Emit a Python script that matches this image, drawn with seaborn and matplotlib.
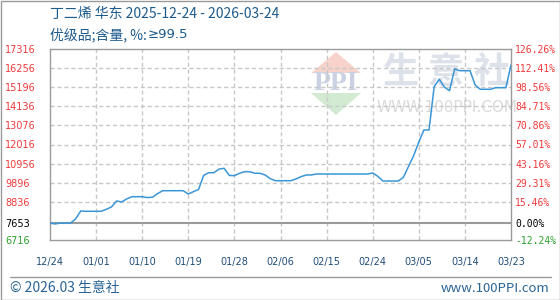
import numpy as np
import pandas as pd
import matplotlib
matplotlib.use("Agg")
import matplotlib.pyplot as plt
from matplotlib.patches import Polygon, Rectangle
import seaborn as sns

# ---------------- data ----------------
title_line1 = "丁二烯 华东 2025-12-24 - 2026-03-24"
title_line2a = "优级品;含量, %:"
title_line2b = "≥99.5"
base_value = 7653
y_min, y_max = 6716, 17316
grid_step = 1060
x_tick_labels = ["12/24", "01/01", "01/10", "01/19", "01/28", "02/06",
                 "02/15", "02/24", "03/05", "03/14", "03/23"]
day_index = list(range(91))
price = [7653, 7610, 7653, 7653, 7653, 7885, 8330, 8309, 8309, 8309,
         8309, 8420, 8550, 8880, 8830, 9000, 9119, 9119, 9119, 9070,
         9090, 9290, 9452, 9452, 9452, 9452, 9452, 9269, 9397, 9520,
         10300, 10451, 10451, 10650, 10695, 10300, 10285, 10420, 10507, 10507,
         10418, 10418, 10324, 10120, 10007, 10007, 10007, 10007, 10100, 10229,
         10324, 10324, 10379, 10379, 10379, 10379, 10379, 10379, 10379, 10379,
         10379, 10379, 10379, 10435, 10250, 9990, 9990, 9990, 9990, 10200,
         10800, 11400, 12150, 12821, 12821, 15224, 15635, 15200, 15002, 16207,
         16112, 16112, 16112, 15318, 15080, 15080, 15080, 15169, 15169, 15169,
         16428]

df = pd.DataFrame({"day": day_index, "price": price})

# ---------------- style ----------------
sns.set_style("white")
plt.rcParams["font.family"] = ["DejaVu Sans", "Noto Sans CJK SC"]

W, H = 560, 300
fig = plt.figure(figsize=(W / 100, H / 100), dpi=100)
fig.patch.set_facecolor("white")

def fx(px):
    return px / W

def fy(py):
    return 1 - py / H

L, R, T, B = 50, 511, 49, 240
ax = fig.add_axes([fx(L), fy(B), fx(R) - fx(L), fy(T) - fy(B)])
ax.set_facecolor("none")

blue_title = "#1d5b8c"
red = "#f03a3a"
green = "#2ca02c"
grid_col = "#c8c8c8"
frame_col = "#9a9a9a"
line_col = "#3a96d6"
cjk = ["Noto Sans CJK SC", "DejaVu Sans"]

# ---------------- watermark ----------------
wm_red = Polygon([[fx(336), fy(52)], [fx(311), fy(73)], [fx(361), fy(73)]],
                 closed=True, transform=fig.transFigure, facecolor="#f7d3cb",
                 edgecolor="none", zorder=-2)
wm_green = Polygon([[fx(311), fy(93)], [fx(361), fy(93)], [fx(336), fy(115)]],
                   closed=True, transform=fig.transFigure, facecolor="#d2ead2",
                   edgecolor="none", zorder=-2)
fig.patches.extend([wm_red, wm_green])
fig.text(fx(336), fy(84), "PPI", ha="center", va="center", fontsize=20,
         family="Liberation Serif", weight="bold", color="#c9d1e2", zorder=-1)
for ch, cx in zip("生意社", [401, 446, 492]):
    fig.text(fx(cx), fy(72), ch, ha="center", va="center", fontsize=26,
             family=["Noto Sans CJK SC"], weight="bold", color="#dde1ea", zorder=-1)
fig.text(fx(447), fy(107), "WWW.100PPI.COM", ha="center", va="center",
         fontsize=11, color="#dadada", zorder=-1)

# ---------------- grid ----------------
grid_vals = [y_min + grid_step * k for k in range(2, 10)]
for gv in grid_vals:
    ax.axhline(gv, color=grid_col, lw=1, ls=(0, (3, 2)), zorder=1)
for d in range(9, 90, 9):
    ax.axvline(d, color=grid_col, lw=1, ls=(0, (3, 2)), zorder=1)
ax.axhline(base_value, color=frame_col, lw=1.5, zorder=2)

# ---------------- line ----------------
sns.lineplot(data=df, x="day", y="price", ax=ax, color=line_col, lw=1.1,
             zorder=3, legend=False)

ax.set_xlim(0, 90)
ax.set_ylim(y_min, y_max)
ax.set_xlabel("")
ax.set_ylabel("")
for s in ax.spines.values():
    s.set_color(frame_col)
    s.set_linewidth(1)

# x ticks
ax.set_xticks(list(range(0, 91, 9)))
ax.set_xticklabels(x_tick_labels, fontsize=7, color="#1f4e79")
ax.tick_params(axis="x", length=0, pad=12)

# left y ticks
left_vals = [y_max - grid_step * k for k in range(9)] + [base_value, y_min]
left_labels = [str(v) for v in left_vals]
ax.set_yticks(left_vals)
ax.set_yticklabels(left_labels, fontsize=7)
ax.tick_params(axis="y", length=0, pad=32.4)
for lab, v in zip(ax.get_yticklabels(), left_vals):
    lab.set_horizontalalignment("left")
    lab.set_color(red if v > base_value else ("black" if v == base_value else green))

# right y ticks (percent change vs base)
ax2 = ax.twinx()
ax2.set_ylim(y_min, y_max)
ax2.set_yticks(left_vals)
pct_labels = ["%.2f%%" % ((v - base_value) / base_value * 100) for v in left_vals]
ax2.set_yticklabels(pct_labels, fontsize=7, family="DejaVu Sans Mono")
ax2.tick_params(axis="y", length=0, pad=3)
for lab, v in zip(ax2.get_yticklabels(), left_vals):
    lab.set_color(red if v > base_value else ("black" if v == base_value else green))
for s in ax2.spines.values():
    s.set_visible(False)

# ---------------- titles & footer ----------------
fig.text(fx(50), fy(14), title_line1, ha="left", va="center", fontsize=10,
         color=blue_title, family=cjk)
t2 = fig.text(fx(50), fy(35), title_line2a, ha="left", va="center", fontsize=10,
              color=blue_title, family=cjk)
fig.canvas.draw()
bb = t2.get_window_extent(renderer=fig.canvas.get_renderer())
fig.text(bb.x1 / W + 1 / W, fy(35), title_line2b, ha="left", va="center",
         fontsize=9.5, color=blue_title, family="DejaVu Sans")

fig.add_artist(plt.Line2D([fx(10), fx(551)], [fy(276.5), fy(276.5)],
                          transform=fig.transFigure, color=frame_col, lw=1))
fig.text(fx(10), fy(288), "© 2026.03 生意社", ha="left", va="center",
         fontsize=10, color="#2a6496", family=cjk)
fig.text(fx(549), fy(288), "www.100PPI.com", ha="right", va="center",
         fontsize=9.5, color="#2a6496", family=cjk)

fig.add_artist(Rectangle((0.5 / W, 0.5 / H), 1 - 1 / W, 1 - 1 / H,
                         transform=fig.transFigure, fill=False,
                         edgecolor=frame_col, lw=1))

fig.savefig("out.png", dpi=100)
